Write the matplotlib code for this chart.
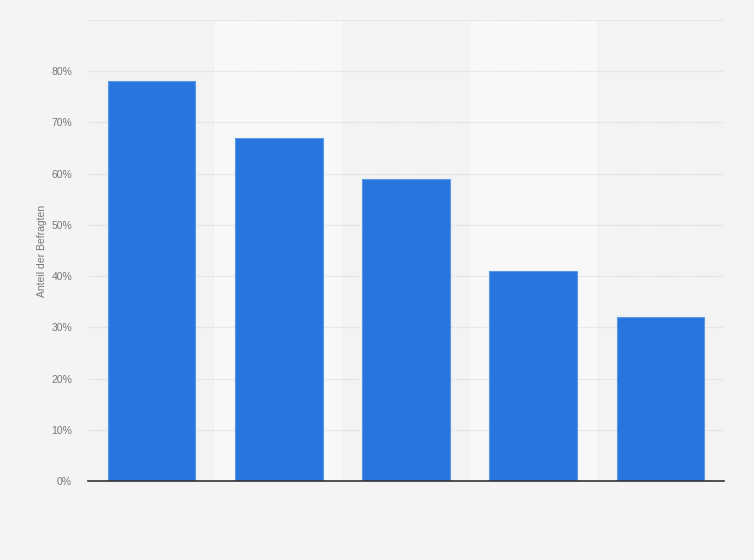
import numpy as np
import matplotlib
matplotlib.use("Agg")
from matplotlib import pyplot as plt
from matplotlib.ticker import FuncFormatter

plt.rcParams["font.family"] = ["Liberation Sans", "DejaVu Sans"]

# values (percent of respondents)
categories = ["A", "B", "C", "D", "E"]
shares = [78, 67, 59, 41, 32]
y_ticks = [0, 10, 20, 30, 40, 50, 60, 70, 80, 90]

fig = plt.figure(figsize=(7.54, 5.6), dpi=100, facecolor="#f4f4f4")
ax = fig.add_axes([88 / 754, 1 - 481 / 560, 636 / 754, 461 / 560])
ax.set_facecolor("#f3f3f3")

x = np.arange(len(categories))
# alternating column bands
for i in x:
    if i % 2 == 1:
        ax.axvspan(i - 0.5, i + 0.5, color="#f8f8f8", zorder=0, lw=0)

ax.bar(x, shares, width=0.69, color="#2876dd", edgecolor="#5b98ea",
       linewidth=0.8, zorder=3)

ax.set_xlim(-0.5, len(categories) - 0.5)
ax.set_ylim(0, 90)
ax.set_yticks(y_ticks)
ax.yaxis.set_major_formatter(
    FuncFormatter(lambda v, p: "" if v == 90 else f"{v:.0f}%"))
ax.grid(axis="y", color="#dadada", linestyle=(0, (1, 1)), linewidth=0.9, zorder=1)
ax.set_xticks([])
ax.tick_params(axis="y", length=0, pad=11.5, labelsize=7.5, labelcolor="#777777")

for side in ["top", "right", "left"]:
    ax.spines[side].set_visible(False)
ax.spines["bottom"].set_color("#333333")
ax.spines["bottom"].set_linewidth(1.2)
ax.spines["bottom"].set_zorder(4)

ax.set_ylabel("Anteil der Befragten", fontsize=7.5, color="#777777", labelpad=3)

plt.savefig("out.png", dpi=100, facecolor=fig.get_facecolor())
